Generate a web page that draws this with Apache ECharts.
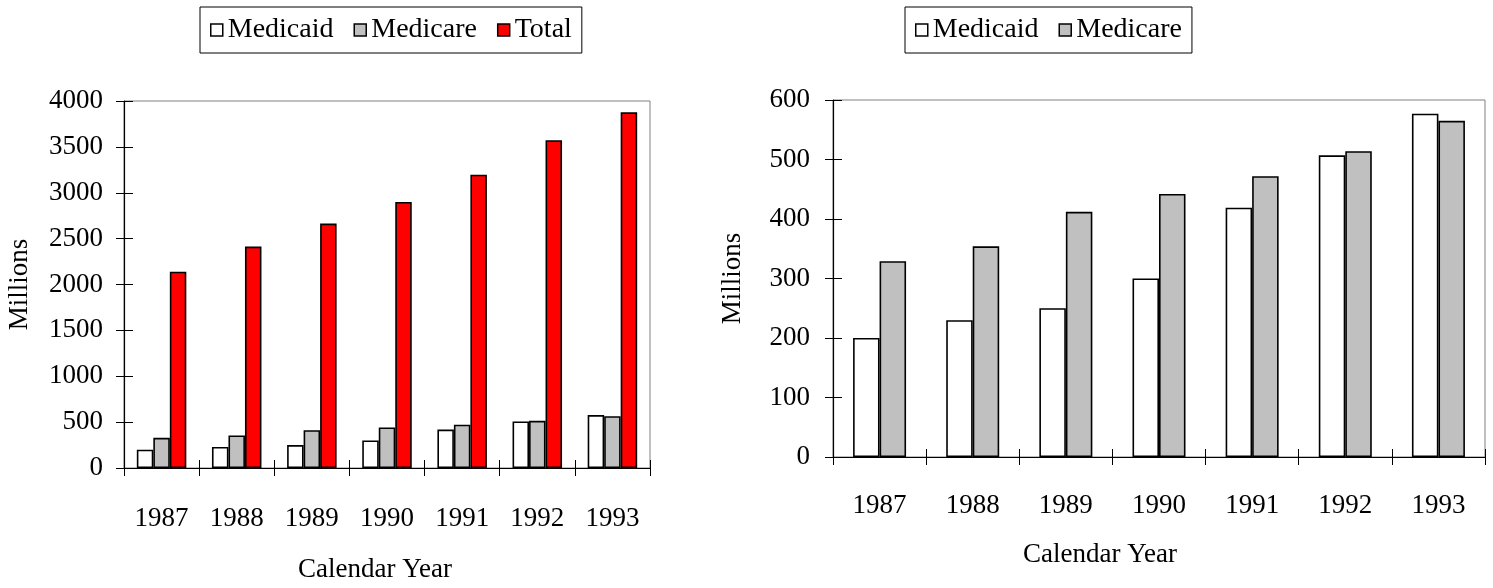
<!DOCTYPE html>
<html>
<head>
<meta charset="utf-8">
<script src="https://cdn.jsdelivr.net/npm/echarts@6/dist/echarts.min.js"></script>
<style>
  html, body { margin: 0; padding: 0; background: #fff; }
  #chart { width: 1493px; height: 588px; }
</style>
</head>
<body>
<div id="chart"></div>
<script>
// ---- data ----
const years = ['1987', '1988', '1989', '1990', '1991', '1992', '1993'];
const medicaid = [200, 230, 250, 300, 419, 507, 577];
const medicare = [329, 354, 412, 442, 472, 514, 565];
const total = [2140, 2413, 2664, 2900, 3197, 3572, 3877];
const leftAxis = { min: 0, max: 4000, interval: 500 };
const rightAxis = { min: 0, max: 600, interval: 100 };
const legendLeft = ['Medicaid', 'Medicare', 'Total'];
const legendRight = ['Medicaid', 'Medicare'];
const xTitle = 'Calendar Year';
const yTitle = 'Millions';

const FONT = 'Liberation Serif';
const txt = { color: '#000', fontFamily: FONT, fontSize: 27 };
const colors = { Medicaid: '#ffffff', Medicare: '#c0c0c0', Total: '#ff0000' };

function xAxes(gridIndex, margin, nameGap, padRight) {
  return [
    {
      type: 'category', gridIndex, position: 'bottom', data: years,
      axisLine: { lineStyle: { color: '#000', width: 1.2 } },
      axisTick: { show: true, inside: false, length: 8, lineStyle: { color: '#000' } },
      axisLabel: Object.assign({ margin }, txt),
      name: xTitle, nameLocation: 'middle', nameGap,
      nameTextStyle: Object.assign({ padding: [0, padRight, 0, 0] }, txt)
    },
    {
      type: 'category', gridIndex, position: 'bottom', data: years,
      axisLine: { show: false },
      axisTick: { show: true, inside: true, length: 8, lineStyle: { color: '#000' } },
      axisLabel: { show: false }
    }
  ];
}
function yAxes(gridIndex, ax, margin, nameGap) {
  return [
    {
      type: 'value', gridIndex, position: 'left', min: ax.min, max: ax.max, interval: ax.interval,
      axisLine: { show: true, lineStyle: { color: '#000', width: 1.2 } },
      axisTick: { show: true, inside: false, length: 8, lineStyle: { color: '#000' } },
      splitLine: { show: false },
      axisLabel: Object.assign({ margin, formatter: (v) => String(v) }, txt),
      name: yTitle, nameLocation: 'middle', nameGap, nameRotate: 90,
      nameTextStyle: txt
    },
    {
      type: 'value', gridIndex, position: 'left', min: ax.min, max: ax.max, interval: ax.interval,
      axisLine: { show: false },
      axisTick: { show: true, inside: true, length: 9, lineStyle: { color: '#000' } },
      splitLine: { show: false },
      axisLabel: { show: false }
    }
  ];
}

function barSeries(name, data, xi, yi, w, gapCat) {
  return {
    name, type: 'bar', data, xAxisIndex: xi, yAxisIndex: yi,
    barWidth: w, barGap: '0%', barCategoryGap: gapCat,
    itemStyle: { color: colors[name], borderColor: '#000', borderWidth: 1.6 },
    emphasis: { disabled: true }
  };
}

const legendBase = {
  orient: 'horizontal', icon: 'rect', itemWidth: 12, itemHeight: 12, itemGap: 20,
  backgroundColor: '#fff', borderColor: '#000', borderWidth: 1,
  padding: [9, 10], selectedMode: false,
  textStyle: Object.assign({}, txt, { fontSize: 28 }),
  itemStyle: { borderColor: '#000', borderWidth: 1.5 }
};

const chart = echarts.init(document.getElementById('chart'), null, { renderer: 'canvas' });
chart.setOption({
  animation: false,
  backgroundColor: '#fff',
  legend: [
    Object.assign({}, legendBase, { data: legendLeft, left: 200, top: 7 }),
    Object.assign({}, legendBase, { data: legendRight, left: 905, top: 7 })
  ],
  grid: [
    { left: 124, top: 101, right: 843, bottom: 120, show: true, borderColor: '#808080', borderWidth: 1, backgroundColor: 'transparent' },
    { left: 833, top: 100, right: 8, bottom: 131, show: true, borderColor: '#808080', borderWidth: 1, backgroundColor: 'transparent' }
  ],
  xAxis: [].concat(xAxes(0, 37, 88, 24), xAxes(1, 35, 84, 118)),
  yAxis: [].concat(yAxes(0, leftAxis, 21, 91), yAxes(1, rightAxis, 23, 87)),
  series: [
    barSeries('Medicaid', medicaid, 0, 0, 16.5, '32%'),
    barSeries('Medicare', medicare, 0, 0, 16.5, '32%'),
    barSeries('Total', total, 0, 0, 16.5, '32%'),
    barSeries('Medicaid', medicaid, 2, 2, 26.5, '42%'),
    barSeries('Medicare', medicare, 2, 2, 26.5, '42%')
  ]
});
</script>
</body>
</html>
